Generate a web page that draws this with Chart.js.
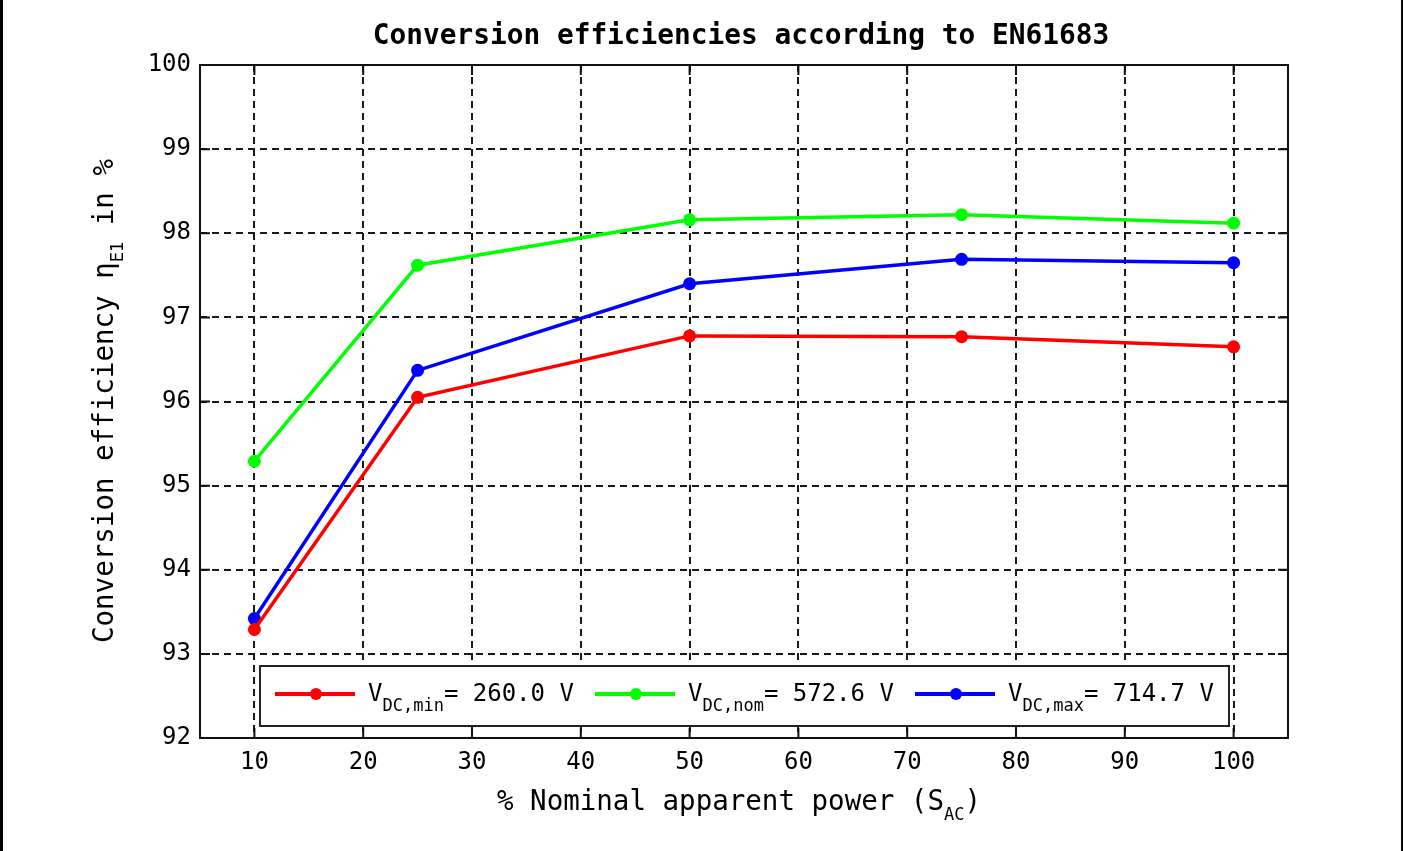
<!DOCTYPE html>
<html>
<head>
<meta charset="utf-8">
<script src="https://cdn.jsdelivr.net/npm/chart.js@4.4.0/dist/chart.umd.min.js"></script>
<style>
  html, body { margin: 0; padding: 0; background: #fff; }
  body { width: 1403px; height: 851px; position: relative; overflow: hidden; font-family: 'DejaVu Sans Mono', monospace; color: #000; }
  #page-border { position: absolute; left: 0; top: 0; width: 1398px; height: 851px; border-left: 3px solid #000; border-right: 2px solid #000; box-sizing: content-box; pointer-events: none; }
  canvas { position: absolute; left: 0; top: 0; }
  .lbl { position: absolute; white-space: nowrap; transform: translate(-50%, -50%); }
  .title { font-weight: bold; font-size: 27.8px; }
  .axis-title { font-size: 27.5px; }
  .axis-title sub, .legend sub { font-size: 17px; vertical-align: -10px; line-height: 0; }
  .legend { position: absolute; left: 259px; top: 665px; width: 967px; height: 58px; border: 2px solid #222; background: #fff; }
  .item { position: absolute; top: 0; height: 58px; }
  .sample { position: absolute; top: 25px; width: 80px; height: 4px; }
  .dot { position: absolute; top: 21px; width: 12px; height: 12px; border-radius: 50%; }
  .item-text { position: absolute; top: 12px; font-size: 24px; white-space: nowrap; }
</style>
</head>
<body>
<canvas id="eff-chart" width="1403" height="851"></canvas>
<div id="page-border"></div>

<div class="lbl title" style="left:741px; top:34px;">Conversion efficiencies according to EN61683</div>
<div class="lbl axis-title" style="left:103px; top:401px; transform: translate(-50%, -50%) rotate(-90deg);">Conversion efficiency η<sub>E1</sub> in %</div>
<div class="lbl axis-title" style="left:739px; top:800px;">% Nominal apparent power (S<sub>AC</sub>)</div>

<div class="legend" id="legend"></div>

<script>
const powerLevels = [10, 25, 50, 75, 100];
const effMin = [93.29, 96.05, 96.78, 96.77, 96.65];
const effNom = [95.29, 97.62, 98.16, 98.22, 98.12];
const effMax = [93.42, 96.37, 97.40, 97.69, 97.65];

// Axis ticks
const xTicks = [10, 20, 30, 40, 50, 60, 70, 80, 90, 100];
const yTicks = [92, 93, 94, 95, 96, 97, 98, 99, 100];

const seriesNames = ['DC,min', 'DC,nom', 'DC,max'];
const seriesVolts = ['260.0 V', '572.6 V', '714.7 V'];
const seriesColors = ['#ff0000', '#00ff00', '#0000ff'];

const monoFont = "'DejaVu Sans Mono', monospace";

function toPoints(values) {
    return powerLevels.map((p, i) => ({ x: p, y: values[i] }));
}

// Frame around the plot plus the short inward ticks on all four sides
const framePlugin = {
    id: 'frame',
    beforeDatasetsDraw(chart) {
        const ctx = chart.ctx;
        const a = chart.chartArea;
        const xs = chart.scales.x;
        const ys = chart.scales.y;
        const len = 10;
        ctx.save();
        ctx.strokeStyle = '#111';
        ctx.lineWidth = 2;
        ctx.setLineDash([]);
        ctx.beginPath();
        xTicks.forEach(v => {
            const px = xs.getPixelForValue(v);
            ctx.moveTo(px, a.bottom);
            ctx.lineTo(px, a.bottom - len);
            ctx.moveTo(px, a.top);
            ctx.lineTo(px, a.top + len);
        });
        yTicks.forEach(v => {
            const py = ys.getPixelForValue(v);
            ctx.moveTo(a.left, py);
            ctx.lineTo(a.left + len, py);
            ctx.moveTo(a.right, py);
            ctx.lineTo(a.right - len, py);
        });
        ctx.stroke();
        ctx.lineWidth = 2;
        ctx.strokeRect(a.left, a.top, a.right - a.left, a.bottom - a.top);
        ctx.restore();
    }
};

function initEffChart() {
    const ctx = document.getElementById('eff-chart').getContext('2d');
    const allSeries = [effMin, effNom, effMax];

    window.effChart = new Chart(ctx, {
        type: 'line',
        data: {
            datasets: allSeries.map((vals, i) => ({
                label: 'V' + seriesNames[i] + '= ' + seriesVolts[i],
                data: toPoints(vals),
                borderColor: seriesColors[i],
                backgroundColor: seriesColors[i],
                borderWidth: 3.5,
                pointRadius: 6.5,
                pointStyle: 'circle',
                pointBorderWidth: 0,
                tension: 0,
                fill: false
            }))
        },
        options: {
            responsive: false,
            animation: false,
            devicePixelRatio: 1,
            layout: {
                padding: { left: 0, top: 65, right: 115, bottom: 0 }
            },
            plugins: {
                legend: { display: false },
                title: { display: false },
                tooltip: { enabled: false }
            },
            scales: {
                x: {
                    type: 'linear',
                    min: 5,
                    max: 105,
                    afterBuildTicks: s => { s.ticks = xTicks.map(v => ({ value: v })); },
                    afterFit: s => { s.height = 113; },
                    grid: {
                        color: '#1a1a1a',
                        lineWidth: 2,
                        drawTicks: false
                    },
                    border: { display: false, dash: [7, 5] },
                    ticks: {
                        color: '#000',
                        padding: 10,
                        maxRotation: 0,
                        font: { family: monoFont, size: 24 }
                    }
                },
                y: {
                    type: 'linear',
                    min: 92,
                    max: 100,
                    afterBuildTicks: s => { s.ticks = yTicks.map(v => ({ value: v })); },
                    afterFit: s => { s.width = 200; },
                    grid: {
                        color: '#1a1a1a',
                        lineWidth: 2,
                        drawTicks: false
                    },
                    border: { display: false, dash: [7, 5] },
                    ticks: {
                        color: '#000',
                        padding: 9,
                        font: { family: monoFont, size: 24 }
                    }
                }
            }
        },
        plugins: [framePlugin]
    });
}

// Legend with subscripted voltage names, laid out like the original
function initLegend() {
    const box = document.getElementById('legend');
    const offsets = [14, 334, 654];
    seriesNames.forEach((name, i) => {
        const item = document.createElement('div');
        item.className = 'item';
        item.style.left = offsets[i] + 'px';
        item.innerHTML =
            '<div class="sample" style="left:0; background:' + seriesColors[i] + '"></div>' +
            '<div class="dot" style="left:35px; background:' + seriesColors[i] + '"></div>' +
            '<div class="item-text" style="left:93px;">V<sub>' + name + '</sub>= ' + seriesVolts[i] + '</div>';
        box.appendChild(item);
    });
}

initEffChart();
initLegend();
</script>
</body>
</html>
